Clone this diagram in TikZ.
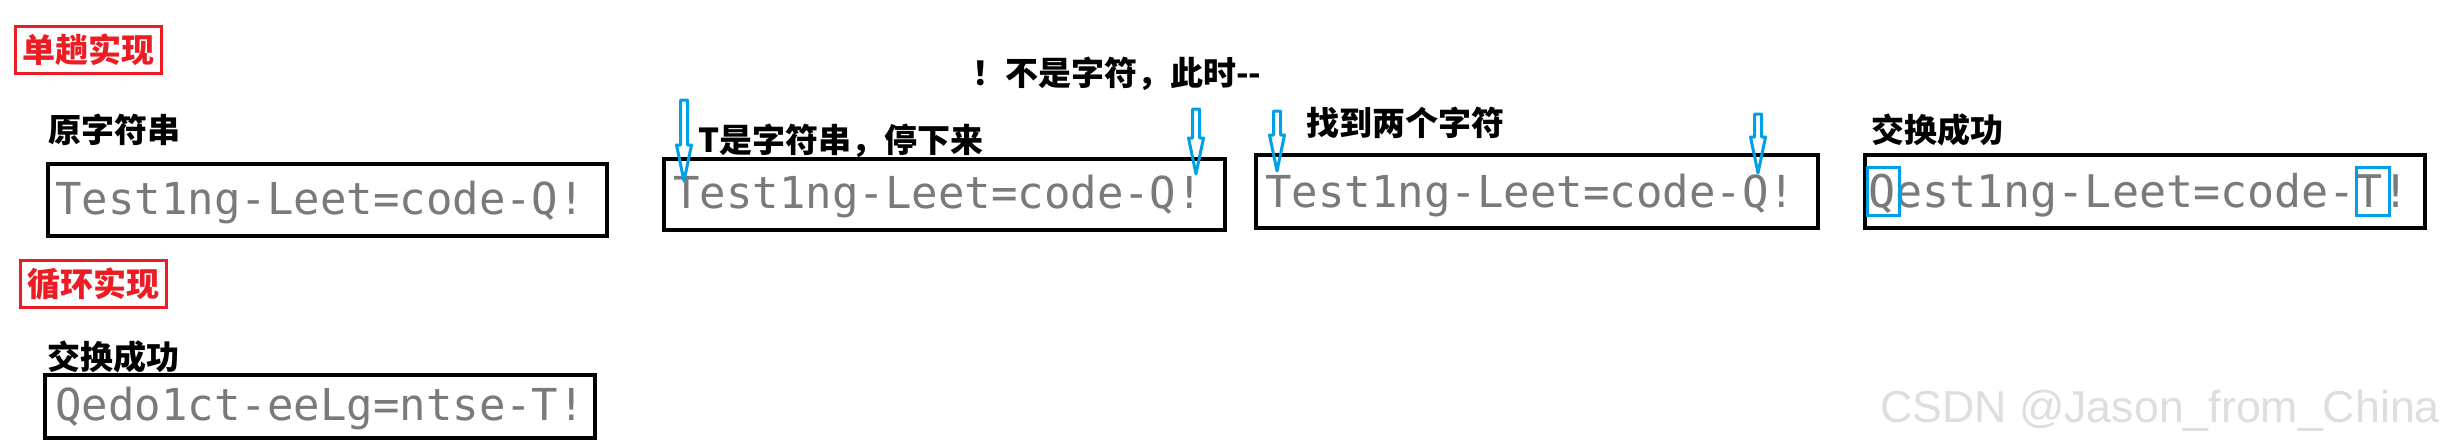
\documentclass[tikz,border=0pt]{standalone}
\usepackage{fontspec}
\setmonofont{DejaVu Sans Mono}
\newfontfamily\cjkfont{Noto Sans CJK SC}
\newfontfamily\markfont{Liberation Sans}
\usetikzlibrary{calc, positioning}
\definecolor{markred}{RGB}{237, 28, 36}
\definecolor{pointblue}{RGB}{0, 160, 233}
\definecolor{strgray}{RGB}{122, 122, 122}
\definecolor{markgray}{RGB}{222, 222, 222}
\tikzset{
  strbox/.style={draw=black, line width=3.5pt},
  strtext/.style={anchor=base west, inner sep=0pt, text=strgray, font=\ttfamily\fontsize{44}{44}\selectfont},
  note/.style={anchor=base west, inner sep=0pt, font=\cjkfont\bfseries\fontsize{33}{33}\selectfont},
  tagbox/.style={draw=markred, line width=3pt, text=markred, inner sep=0pt, minimum width=146pt, minimum height=47pt, font=\cjkfont\bfseries\fontsize{33}{33}\selectfont},
  hitbox/.style={draw=pointblue, line width=3pt},
  downarrow/.style={draw=pointblue, line width=3pt, line join=round,
    to path={let \p1=(\tikztostart), \p2=(\tikztotarget) in
      (\x1-3.5pt,\y1) -- (\x1-3.5pt,\y2+36pt) -- (\x1-7.5pt,\y2+36pt) -- (\x2,\y2)
      -- (\x1+7.5pt,\y2+36pt) -- (\x1+3.5pt,\y2+36pt) -- (\x1+3.5pt,\y1) -- cycle}}
}
\begin{document}
\begin{tikzpicture}[x=1pt, y=-1pt]
    \fill[white] (0,0) rectangle (2443,447);
    \useasboundingbox (0,0) rectangle (2443,447);

    % red tags
    \node[tagbox] (tag1) at (88.5,49.5) {单趟实现};
    \node[tagbox] (tag2) at (93.5,284) {循环实现};

    % string boxes
    \draw[strbox] (48,164) rectangle (607,236);
    \draw[strbox] (664,159) rectangle (1225,230);
    \draw[strbox] (1256,155) rectangle (1818,228);
    \draw[strbox] (1865,155) rectangle (2425,228);
    \draw[strbox] (45,375) rectangle (595,438);

    \node[strtext] (str1) at (55,214) {Test1ng-Leet=code-Q!};
    \node[strtext] (str2) at (673,208) {Test1ng-Leet=code-Q!};
    \node[strtext] (str3) at (1265,207) {Test1ng-Leet=code-Q!};
    \node[strtext, font=\ttfamily\fontsize{45}{45}\selectfont] (str4) at (1868,207) {Qest1ng-Leet=code-T!};
    \node[strtext] (str5) at (55,420) {Qedo1ct-eeLg=ntse-T!};

    \node[note] (orig) at (48,142) {原字符串};
    \node[note] (stop) at (698,152) {T是字符串，停下来};
    \node[note] (skip) at (972,85) {！不是字符，此时-{}-};
    \node[note] (found) at (1306,135) {找到两个字符};
    \node[note] (swap1) at (1871,142) {交换成功};
    \node[note] (swap2) at (47,369) {交换成功};

    % pointers
    \coordinate (p1) at (684,100);  \coordinate (q1) at (684,181);
    \coordinate (p2) at (1196,109); \coordinate (q2) at (1196,174);
    \coordinate (p3) at (1277,111); \coordinate (q3) at (1277,171);
    \coordinate (p4) at (1758,114); \coordinate (q4) at (1758,173);
    \draw[downarrow] (p1) to (q1);
    \draw[downarrow] (p2) to (q2);
    \draw[downarrow] (p3) to (q3);
    \draw[downarrow] (p4) to (q4);

    \draw[hitbox] (1867.5,167.5) rectangle (1899.5,215.5);
    \draw[hitbox] (2356.5,167.5) rectangle (2389.5,215.5);

    \node[anchor=base west, inner sep=0pt, text=markgray, font=\markfont\fontsize{44.7}{44.7}\selectfont] (mark) at (1880,422) {CSDN @Jason\_from\_China};
\end{tikzpicture}
\end{document}
